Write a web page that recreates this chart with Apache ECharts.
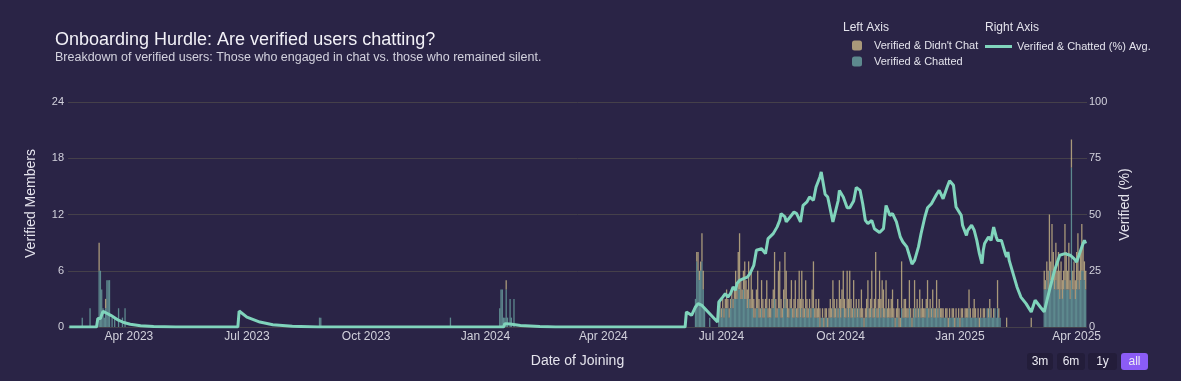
<!DOCTYPE html>
<html>
<head>
<meta charset="utf-8">
<script src="https://cdn.jsdelivr.net/npm/echarts@6/dist/echarts.min.js"></script>
<style>
html,body{margin:0;padding:0;background:#2a2446;}
#chart{width:1181px;height:381px;}
</style>
</head>
<body>
<div id="chart"></div>
<script>
// ---------- DATA ----------
// Sparse early days (2023 / Jan 2024)
const sparseDates = ['2023-02-24','2023-03-02','2023-03-09','2023-03-10','2023-03-11','2023-03-12','2023-03-13','2023-03-14','2023-03-15','2023-03-16','2023-03-17','2023-03-19','2023-03-21','2023-03-24','2023-03-27','2023-03-29','2023-08-26','2023-08-27','2023-12-05','2024-01-12','2024-01-13','2024-01-14','2024-01-15','2024-01-16','2024-01-17','2024-01-18','2024-01-20','2024-01-21','2024-01-23'];
const sparseChatted = [1,2,6,6,4,2,1,2,5,5,5,1,1,2,1,2,1,1,1,2,4,4,1,1,4,1,3,1,3];
const sparseDidntChat = [0,0,3,0,0,0,0,1,0,0,0,0,0,0,0,0,0,0,0,0,0,0,0,0,1,0,0,0,0];

// Daily counts from 2024-06-11 to 2025-04-08
const dailyStart = '2024-06-11';
const dailyChatted = [
  3,7,6,5,6,7,4,2,0,0,0,1,0,0,0,0,0,0,1,2,                       // Jun 11-30
  1,2,1,2,2,2,1,2,3,2,3,3,3,4,4,3,3,4,3,3,2,3,2,2,2,1,1,2,2,1,1, // Jul
  2,1,1,2,2,1,1,1,2,2,3,1,1,2,2,1,1,2,3,2,1,1,2,2,1,1,2,1,1,2,1, // Aug
  2,1,1,2,1,1,2,1,2,2,1,1,1,1,0,1,1,0,1,1,0,1,1,1,2,1,1,2,1,2,   // Sep
  1,2,2,1,1,2,1,2,1,1,2,1,2,1,2,1,1,1,0,1,1,2,1,1,2,1,1,2,1,1,2, // Oct
  1,2,1,1,2,1,1,1,1,1,1,0,1,1,0,0,2,1,1,1,1,1,2,1,0,1,2,1,2,1,   // Nov
  2,1,1,1,1,2,2,1,2,1,2,1,1,2,1,2,1,1,1,1,1,1,0,1,1,1,1,0,1,1,1, // Dec
  0,1,1,1,1,1,1,2,1,1,1,1,1,1,1,0,1,1,1,1,1,2,1,2,1,1,1,2,1,2,1, // Jan 2025
  1,0,0,0,0,0,0,0,0,0,0,0,0,0,0,0,0,0,0,0,0,0,0,0,0,0,0,0,       // Feb
  0,0,0,0,0,0,4,4,5,4,6,5,6,5,4,5,4,4,3,4,3,4,5,4,4,4,3,17,4,4,3, // Mar
  4,5,4,5,6,6,5,4                                                 // Apr 1-8
];
const dailyDidntChat = [
  0,1,2,1,1,3,2,0,0,0,0,0,0,0,0,0,0,0,1,1,
  1,1,1,1,2,1,1,1,1,1,1,3,1,4,6,2,1,2,4,2,2,4,1,4,2,2,1,2,4,2,1,
  3,2,1,1,3,1,2,1,1,2,5,2,1,4,5,2,1,2,5,4,2,1,1,3,1,2,3,1,2,4,2,
  4,2,1,3,2,1,1,1,2,5,1,2,1,2,2,0,1,1,1,1,1,1,2,1,3,2,1,1,1,3,
  2,2,4,2,1,4,2,4,2,1,3,1,1,1,1,1,3,1,1,1,2,3,1,2,4,1,2,6,1,2,4,
  2,3,3,1,3,1,2,1,2,3,1,1,1,2,2,1,5,1,2,2,1,1,3,1,1,1,3,1,1,1,
  2,1,2,1,1,1,3,1,1,1,2,1,1,3,1,1,1,1,1,0,1,1,1,1,0,1,1,1,1,0,1,
  1,1,1,0,1,1,1,2,1,0,1,2,1,0,1,1,1,0,1,1,0,0,1,1,1,0,1,0,0,3,1,
  0,0,0,0,0,1,0,0,0,0,0,0,0,0,0,0,0,0,0,0,0,0,0,0,1,0,0,0,
  0,0,0,0,0,0,2,1,2,2,6,2,5,3,2,4,2,4,3,3,2,2,6,4,2,5,2,3,2,3,2,
  4,5,2,3,5,3,2,2
];

// Rolling average line (right axis, %)
const lineDates = ['2023-02-14','2023-03-07','2023-03-08','2023-03-10','2023-03-11','2023-03-12','2023-03-13','2023-03-18','2023-03-23','2023-03-28','2023-04-02','2023-04-10','2023-04-20','2023-05-07','2023-06-24','2023-06-25','2023-07-01','2023-07-11','2023-07-21','2023-08-05','2023-08-25','2024-01-15','2024-01-16','2024-01-20','2024-01-28','2024-02-12','2024-02-24','2024-06-03','2024-06-04','2024-06-08','2024-06-11','2024-06-13','2024-06-16','2024-06-22','2024-06-28','2024-06-29','2024-07-02','2024-07-04','2024-07-06','2024-07-08','2024-07-10','2024-07-12','2024-07-13','2024-07-15','2024-07-18','2024-07-21','2024-07-23','2024-07-26','2024-07-28','2024-08-01','2024-08-04','2024-08-06','2024-08-10','2024-08-13','2024-08-15','2024-08-16','2024-08-19','2024-08-20','2024-08-23','2024-08-26','2024-08-28','2024-08-31','2024-09-01','2024-09-02','2024-09-05','2024-09-07','2024-09-10','2024-09-12','2024-09-15','2024-09-16','2024-09-19','2024-09-21','2024-09-25','2024-09-29','2024-09-30','2024-10-03','2024-10-06','2024-10-08','2024-10-11','2024-10-13','2024-10-16','2024-10-18','2024-10-20','2024-10-22','2024-10-25','2024-10-27','2024-10-31','2024-11-03','2024-11-05','2024-11-08','2024-11-10','2024-11-13','2024-11-16','2024-11-18','2024-11-21','2024-11-25','2024-11-27','2024-11-30','2024-12-02','2024-12-05','2024-12-07','2024-12-10','2024-12-14','2024-12-16','2024-12-19','2024-12-22','2024-12-24','2024-12-27','2024-12-29','2025-01-02','2025-01-03','2025-01-06','2025-01-07','2025-01-10','2025-01-12','2025-01-14','2025-01-16','2025-01-18','2025-01-19','2025-01-20','2025-01-23','2025-01-25','2025-01-27','2025-01-29','2025-01-30','2025-02-02','2025-02-05','2025-02-06','2025-02-07','2025-02-08','2025-02-11','2025-02-14','2025-02-17','2025-02-21','2025-02-25','2025-02-28','2025-03-04','2025-03-07','2025-03-11','2025-03-15','2025-03-19','2025-03-23','2025-03-27','2025-03-30','2025-04-01','2025-04-05','2025-04-07','2025-04-08'];
const lineValues = [0,0,3.8,3.8,3.0,7.0,7.8,5.2,3.3,2.0,1.2,0.6,0.2,0,0,7.1,4.4,2.2,1.0,0.3,0,0,1.5,1.3,0.7,0.2,0,0,6.7,5.2,8.9,10.4,9.6,5.9,2.2,11.1,13.3,14.8,13.3,14.8,17.8,16.3,19.3,20.7,21.5,22.2,23.7,27.4,34.1,34.8,32.6,39.3,41.5,44.5,47.4,50.4,48.9,46.7,48.9,51.1,50.4,46.7,46.0,54.1,55.6,57.8,56.3,62.2,66.7,68.9,59.0,57.8,46.7,56.0,60.7,57.8,53.0,53.0,56.0,62.0,60.7,54.8,47.4,46.0,47.4,43.7,42.0,43.7,54.0,49.6,50.4,46.7,40.0,37.8,35.6,28.0,29.6,35.6,41.5,49.0,53.0,54.8,59.0,60.7,57.0,62.0,65.0,63.0,53.3,49.6,45.2,40.7,43.0,45.2,43.0,38.5,32.6,28.2,34.1,37.1,40.0,38.5,44.4,40.0,38.5,38.5,32.6,31.1,33.3,29.6,23.7,17.8,13.3,10.4,6.7,11.9,8.9,6.7,16.3,25.2,31.9,32.6,31.9,30.4,28.9,35.6,38.5,37.1];

const leftTicks = [0, 6, 12, 18, 24];
const rightTicks = [0, 25, 50, 75, 100];
const monthNames = ['Jan','Feb','Mar','Apr','May','Jun','Jul','Aug','Sep','Oct','Nov','Dec'];
const rangeButtons = ['3m', '6m', '1y', 'all'];

// ---------- BUILD ----------
function addDays(s, n) {
  const d = new Date(s + 'T00:00:00Z');
  d.setUTCDate(d.getUTCDate() + n);
  return d.toISOString().slice(0, 10);
}
const barDates = sparseDates.concat(dailyChatted.map((_, i) => addDays(dailyStart, i)));
const chattedAll = sparseChatted.concat(dailyChatted);
const didntAll = sparseDidntChat.concat(dailyDidntChat);
const chattedData = barDates.map((d, i) => [d, chattedAll[i]]);
const didntData = barDates.map((d, i) => [d, didntAll[i]]);
const lineData = lineDates.map((d, i) => [d, lineValues[i]]);

const FONT = "'Liberation Sans', Arial, sans-serif";
const TXT = '#e4e3ec';
const TICK = '#d2d1dc';
const GRID = '#45404a';
const TEAL = '#6aa3a0';
const TAN = '#c9b787';
const MINT = '#80d4bc';
const DAY = 24 * 3600 * 1000;

const btnX = [1027, 1057, 1088, 1121];
const btnW = [26, 28, 29, 27];
const graphics = [
  { type: 'text', x: 843, y: 22, style: { text: 'Left Axis', fill: TXT, font: '12px ' + FONT } },
  { type: 'text', x: 985, y: 22, style: { text: 'Right Axis', fill: TXT, font: '12px ' + FONT } }
];
rangeButtons.forEach((b, i) => {
  const active = b === 'all';
  graphics.push({ type: 'rect', shape: { x: btnX[i], y: 353, width: btnW[i], height: 17, r: 3 },
    style: { fill: active ? '#8b5cf6' : '#231d3a' } });
  graphics.push({ type: 'text', x: btnX[i] + btnW[i] / 2, y: 361.5,
    style: { text: b, fill: '#ecebf3', font: '12px ' + FONT, align: 'center', verticalAlign: 'middle' } });
});

const chart = echarts.init(document.getElementById('chart'), null, { renderer: 'canvas' });
chart.setOption({
  backgroundColor: '#2a2446',
  animation: false,
  textStyle: { fontFamily: FONT },
  title: [
    { text: 'Onboarding Hurdle: Are verified users chatting?', left: 50, top: 26,
      textStyle: { color: '#f2f1f7', fontSize: 18, fontWeight: 'normal', fontFamily: FONT } },
    { text: 'Breakdown of verified users: Those who engaged in chat vs. those who remained silent.', left: 50, top: 46,
      textStyle: { color: '#d3d2de', fontSize: 12.5, fontWeight: 'normal', fontFamily: FONT } }
  ],
  legend: [
    { data: ["Verified & Didn't Chat", 'Verified & Chatted'], orient: 'vertical', left: 852, top: 40,
      padding: 0, itemWidth: 10, itemHeight: 10, itemGap: 5, selectedMode: false, align: 'left',
      icon: 'roundRect',
      textStyle: { color: TXT, fontSize: 11, fontFamily: FONT, padding: [0, 0, 0, 7] } },
    { data: ['Verified & Chatted (%) Avg.'], left: 985, top: 41, padding: 0, itemWidth: 27, itemHeight: 3,
      icon: 'rect', selectedMode: false, textStyle: { color: TXT, fontSize: 11, fontFamily: FONT } }
  ],
  grid: { left: 68, right: 94, top: 102, bottom: 54, containLabel: false },
  xAxis: {
    type: 'time',
    min: '2023-02-13 12:00', max: '2025-04-08 12:00',
    minInterval: 80 * DAY, maxInterval: 100 * DAY,
    axisLine: { show: false }, axisTick: { show: false }, splitLine: { show: false },
    axisLabel: {
      color: TICK, fontSize: 12, margin: 4, fontFamily: FONT,
      formatter: function (v) {
        const d = new Date(v);
        if (d.getDate() !== 1 || d.getHours() !== 0) return '';
        return monthNames[d.getMonth()] + ' ' + d.getFullYear();
      }
    },
    name: 'Date of Joining', nameLocation: 'middle', nameGap: 27,
    nameTextStyle: { color: TXT, fontSize: 14, fontFamily: FONT }
  },
  yAxis: [
    { type: 'value', min: leftTicks[0], max: leftTicks[leftTicks.length - 1], interval: leftTicks[1] - leftTicks[0],
      axisLine: { show: false }, axisTick: { show: false },
      splitLine: { lineStyle: { color: GRID, width: 1 } },
      axisLabel: { color: TICK, fontSize: 11, margin: 4, fontFamily: FONT },
      name: 'Verified Members', nameLocation: 'middle', nameGap: 30, nameRotate: 90,
      nameTextStyle: { color: TXT, fontSize: 14, fontFamily: FONT, padding: [0, 0, 0, 22] } },
    { type: 'value', min: rightTicks[0], max: rightTicks[rightTicks.length - 1], interval: rightTicks[1] - rightTicks[0],
      position: 'right',
      axisLine: { show: false }, axisTick: { show: false }, splitLine: { show: false },
      axisLabel: { color: TICK, fontSize: 11, margin: 2, fontFamily: FONT },
      name: 'Verified (%)', nameLocation: 'middle', nameGap: 30, nameRotate: 90,
      nameTextStyle: { color: TXT, fontSize: 14, fontFamily: FONT, padding: [0, 0, 0, 20] } }
  ],
  series: [
    { name: 'Verified & Chatted', type: 'bar', stack: 'v', barWidth: 1.3, data: chattedData,
      itemStyle: { color: TEAL, opacity: 0.8 } },
    { name: "Verified & Didn't Chat", type: 'bar', stack: 'v', barWidth: 1.3, data: didntData,
      itemStyle: { color: TAN, opacity: 0.8 } },
    { name: 'Verified & Chatted (%) Avg.', type: 'line', yAxisIndex: 1, data: lineData,
      showSymbol: false, symbol: 'none', z: 5,
      lineStyle: { color: MINT, width: 3 }, itemStyle: { color: MINT } }
  ],
  graphic: graphics
});
</script>
</body>
</html>
